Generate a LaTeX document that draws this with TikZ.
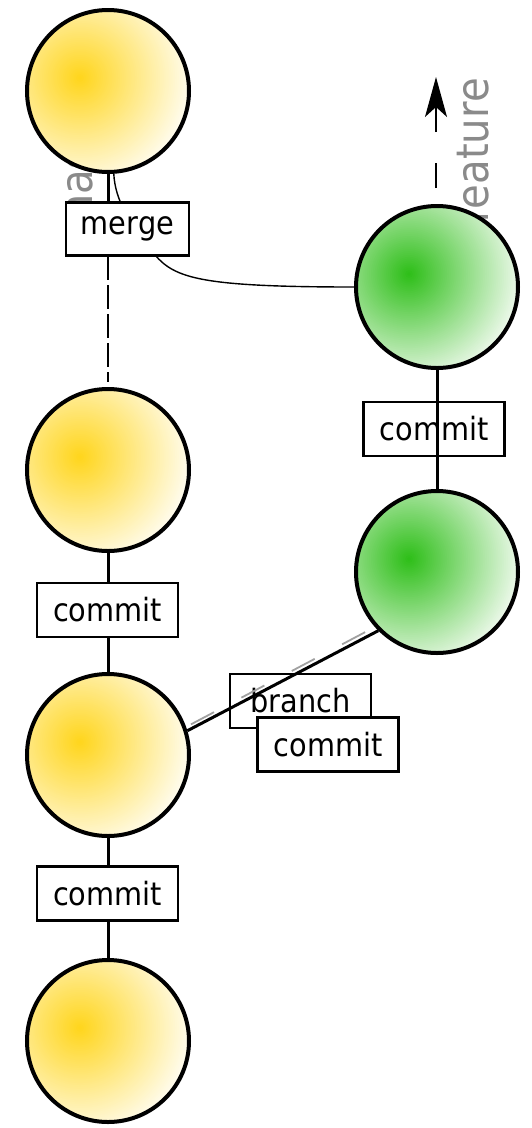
\documentclass[tikz,border=0pt]{standalone}
\usepackage{fontspec}
\newfontfamily\labelfont[FakeStretch=0.9]{DejaVu Sans}
\usetikzlibrary{arrows.meta}
\definecolor{yA}{HTML}{FFD51A}
\definecolor{yE}{HTML}{FFFDF2}
\definecolor{gA}{HTML}{2CBE16}
\definecolor{gE}{HTML}{F0FAEE}
\definecolor{greytext}{HTML}{8A8A8A}
% gradient ball: clip to circle, stack discs centred up-left
\newcommand{\gradball}[4]{% x, y, inner colour, outer colour
  \begin{scope}
    \clip (#1,#2) circle (81);
    \foreach \k in {60,59,...,1}{
      \pgfmathsetmacro{\pct}{100*\k/60}
      \fill[#4!\pct!#3] (#1-28,#2-13) circle ({1.9*\k});
    }
  \end{scope}}
\tikzset{
  commitdot/.style={circle, draw=black, line width=4pt, minimum size=162pt, inner sep=0pt},
  tag/.style={rectangle, draw=black, fill=white, line width=2.6pt, minimum width=141pt, minimum height=54pt, inner sep=0pt, font=\labelfont\fontsize{32}{38}\selectfont},
  branchname/.style={text=greytext, inner sep=0pt, rotate=90, font=\labelfont\fontsize{44.7}{50}\selectfont},
  conn/.style={draw=black, line width=3pt},
}
\begin{document}
\begin{tikzpicture}[x=1pt,y=-1pt]
\useasboundingbox (0,0) rectangle (531,1128);
% branch names (partly hidden)
\node[branchname, anchor=base west] (masterlbl) at (92,234) {master};
\node[branchname, anchor=base east] (featlbl) at (488,78) {feature};
% arrow
\coordinate (arrS) at (436,188);
\coordinate (arrT) at (436,77);
\draw[line width=2pt, dash pattern=on 25pt off 31pt] (arrS) -- (arrT);
\draw[line width=2pt, -{Stealth[length=40pt, width=22pt, inset=10pt]}] (436,122) -- (arrT);
% gradient fills
\gradball{108}{91}{yA}{yE}
\gradball{108}{470}{yA}{yE}
\gradball{108}{755}{yA}{yE}
\gradball{108}{1041}{yA}{yE}
\gradball{437}{287}{gA}{gE}
\gradball{437}{572}{gA}{gE}
% commits (outlines)
\node[commitdot] (m1) at (108,91) {};
\node[commitdot] (m2) at (108,470) {};
\node[commitdot] (m3) at (108,755) {};
\node[commitdot] (m4) at (108,1041) {};
\node[commitdot] (g1) at (437,287) {};
\node[commitdot] (g2) at (437,572) {};
\coordinate (mergepos) at (127.5,229);
% merge curve (behind merge box)
\draw[line width=1.4pt] (g1.west) .. controls (200,287) and (175,278) .. (155,255) .. controls (130,225) and (115,200) .. (m1.-86);
% master line
\draw[conn] (m1) -- (108,229);
\draw[line width=2.2pt, dash pattern=on 24pt off 5pt] (108,256) -- (108,382);
\draw[conn] (m2) -- (m3);
\draw[conn] (m3) -- (m4);
% boxes on the master line
\node[tag, minimum width=123pt, minimum height=53pt] (merge) at (mergepos) {merge};
\node[tag] (c1) at (107.5,610) {commit};
\node[tag] (c3) at (107.5,893.5) {commit};
% feature line
\node[tag] (c2) at (434,429) {commit};
\draw[conn] (g1) -- (g2);
% branch
\node[tag] (branch) at (300.5,701) {branch};
\draw[greytext!80, line width=1.8pt, dash pattern=on 26pt off 31pt, dash phase=-3pt] ([shift={(1,-5)}]m3.17) -- ([shift={(-1,-5)}]g2.225);
\draw[conn] (m3.17) -- (g2.225);
\node[tag] (c4) at (328,744.5) {commit};
\end{tikzpicture}
\end{document}
